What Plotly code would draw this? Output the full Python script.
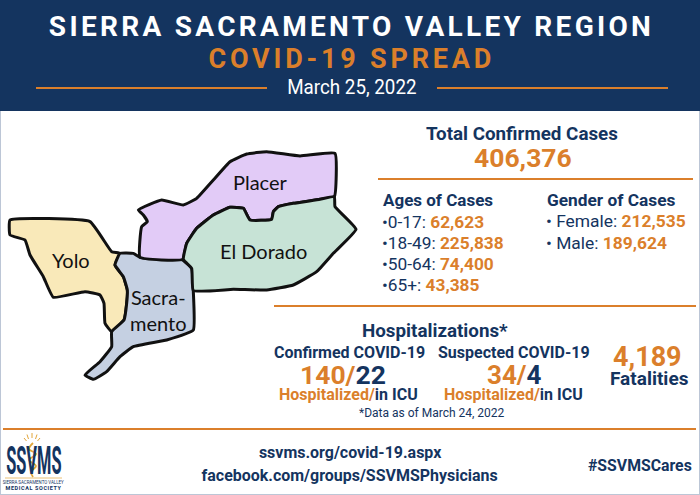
import json
import numpy as np
import plotly.graph_objects as go

NAVY = "#14345f"
ORANGE = "#db7f2b"
EDGE = "#bcc6d6"

# report text and figures
title = "SIERRA SACRAMENTO VALLEY REGION"
subtitle = "COVID-19 SPREAD"
report_date = "March 25, 2022"
total_cases = "406,376"
age_labels = ["0-17", "18-49", "50-64", "65+"]
age_values = ["62,623", "225,838", "74,400", "43,385"]
gender_labels = ["Female", "Male"]
gender_values = ["212,535", "189,624"]
confirmed = ("140", "22")
suspected = ("34", "4")
fatalities = "4,189"
data_note = "*Data as of March 24, 2022"
links = ["ssvms.org/covid-19.aspx", "facebook.com/groups/SSVMSPhysicians"]
hashtag = "#SSVMSCares"

# county outlines at 3x
yolo_x = [30, 270, 335, 360, 345, 370, 382, 380, 372, 335, 315, 312, 300, 255, 160, 130, 90, 75, 30]
yolo_y = [240, 245, 335, 340, 375, 410, 450, 490, 540, 575, 550, 490, 465, 455, 472, 410, 345, 300, 285]
sacramento_x = [360, 400, 420, 545, 575, 580, 580, 500, 400, 360, 320, 280, 255, 300, 335, 335, 372, 380, 382, 370, 345]
sacramento_y = [340, 340, 352, 358, 385, 455, 570, 600, 620, 650, 695, 718, 705, 665, 620, 575, 540, 490, 450, 410, 375]
placer_x = [415, 485, 550, 590, 640, 690, 740, 800, 900, 1005, 1003, 960, 880, 835, 820, 815, 750, 730, 690, 640, 590, 560, 548, 420, 425, 442, 430]
placer_y = [210, 180, 195, 175, 120, 65, 42, 35, 48, 40, 170, 178, 190, 200, 215, 238, 240, 205, 202, 225, 265, 310, 358, 352, 260, 245, 225]
eldorado_x = [1003, 1005, 1068, 1000, 950, 880, 800, 700, 580, 575, 550, 560, 590, 640, 690, 730, 750, 815, 820, 835, 880, 960]
eldorado_y = [170, 200, 268, 340, 395, 435, 450, 448, 452, 385, 358, 310, 265, 225, 202, 205, 240, 238, 215, 200, 190, 178]

counties = [
    ("Yolo", yolo_x, yolo_y, "#f9e9b9"),
    ("Sacramento", sacramento_x, sacramento_y, "#c5d0e2"),
    ("Placer", placer_x, placer_y, "#e2cbf7"),
    ("El Dorado", eldorado_x, eldorado_y, "#c7e3d6"),
]

# logo pieces
snake_x = [33, 29, 36, 29, 36, 31, 33]
snake_y = [443, 449, 454, 460, 466, 472, 477]
ray_x = [[32, 32], [27, 28.5], [37, 35.5], [24, 26.5], [40, 37.5]]
ray_y = [[433, 438], [434.5, 439], [434.5, 439], [438, 441], [438, 441]]

fig = go.Figure()

for name, xs, ys, colour in counties:
    fig.add_trace(go.Scatter(
        x=np.r_[xs, xs[0]] / 3,
        y=140 + np.r_[ys, ys[0]] / 3,
        mode="lines",
        fill="toself",
        fillcolor=colour,
        line=dict(color="#111111", width=3, shape="spline", smoothing=0.35),
        name=name,
        hoverinfo="skip",
    ))

for rx, ry in zip(ray_x, ray_y):
    fig.add_trace(go.Scatter(
        x=rx, y=ry, mode="lines",
        line=dict(color="#e2a63b", width=1),
        hoverinfo="skip",
    ))


def rule(x0, x1, y, color=ORANGE, width=2):
    return dict(type="line", x0=x0, x1=x1, y0=y, y1=y, line=dict(color=color, width=width), layer="above")


shapes = [
    dict(type="rect", x0=0, x1=700, y0=0, y1=495, line=dict(color=EDGE, width=2), fillcolor="white", layer="below"),
    dict(type="rect", x0=0, x1=700, y0=0, y1=111, line=dict(width=0), fillcolor=NAVY, layer="below"),
    rule(36, 267, 88),
    rule(437, 668, 88),
    rule(378, 693, 179),
    rule(274, 696, 306),
    rule(3, 696, 429),
    rule(5, 62, 478, "#e2a63b", 0.7),
]

annotations = []


def label(x, y, text, size, color=NAVY, weight=400, family="Roboto", anchor="center"):
    annotations.append(dict(
        x=x, y=y, text=text, showarrow=False, xanchor=anchor, yanchor="middle", align=anchor,
        font=dict(family=family, size=size, color=color, weight=weight),
    ))


def tint(text):
    return f'<span style="color:{ORANGE}">{text}</span>'


label(351, 26, title, 28, "white", 700)
label(352, 59, subtitle, 27, ORANGE, 700)
label(352, 87, report_date, 20, "white")

label(522, 134, "Total Confirmed Cases", 18.8, NAVY, 700)
label(523, 157, total_cases, 26.5, ORANGE, 700)

label(381, 200, "Ages of Cases", 17, NAVY, 700, anchor="left")
for i, (name, val) in enumerate(zip(age_labels, age_values)):
    label(380, 222 + i * 21, f"•{name}: <b>{tint(val)}</b>", 17.3, anchor="left")
label(545, 200, "Gender of Cases", 17.3, NAVY, 700, anchor="left")
for i, (name, val) in enumerate(zip(gender_labels, gender_values)):
    label(544, 221 + i * 21.5, f"• {name}: <b>{tint(val)}</b>", 17.4, anchor="left")

label(435, 331, "Hospitalizations*", 18.8, NAVY, 700)
label(349, 352, "Confirmed COVID-19", 16, NAVY, 700)
label(514, 352, "Suspected COVID-19", 16, NAVY, 700)
label(343, 374, f"{tint(confirmed[0] + '/')}{confirmed[1]}", 26.5, NAVY, 700)
label(514, 375, f"{tint(suspected[0] + '/')}{suspected[1]}", 26, NAVY, 700)
label(348, 394, f"{tint('Hospitalized/')}in ICU", 16, NAVY, 700)
label(513, 394, f"{tint('Hospitalized/')}in ICU", 16, NAVY, 700)
label(432, 413, data_note, 12, NAVY)
label(647, 357, fatalities, 27, ORANGE, 700)
label(649, 378, "Fatalities", 19, NAVY, 700)

label(350, 452, links[0], 17, NAVY, 700)
label(350, 475, links[1], 17, NAVY, 700)
label(640, 465, hashtag, 15.8, NAVY, 700)

label(260, 182, "Placer", 20, "#111111", family="Lato")
label(263, 251, "El Dorado", 20, "#111111", family="Lato")
label(71, 260, "Yolo", 20, "#111111", family="Lato")
label(158, 310, "Sacra-<br>mento", 20, "#111111", family="Lato")

label(33.5, 461, "SSVMS", 39, NAVY, 700)
fig.add_trace(go.Scatter(
    x=snake_x, y=snake_y, mode="lines",
    line=dict(color="#e2a63b", width=1.8, shape="spline"),
    hoverinfo="skip",
))
label(33.5, 482, "SIERRA SACRAMENTO VALLEY", 5.5, NAVY)
label(33.5, 488, "MEDICAL SOCIETY", 5.5, NAVY, 700)

fig.update_layout(
    width=700,
    height=495,
    margin=dict(l=0, r=0, t=0, b=0),
    showlegend=False,
    paper_bgcolor="white",
    plot_bgcolor="white",
    xaxis=dict(range=[0, 700], visible=False, fixedrange=True),
    yaxis=dict(range=[495, 0], visible=False, fixedrange=True),
    shapes=shapes,
    annotations=annotations,
)

# plotly has no letter spacing or condensed type, so set them on the drawn text
text_css = {
    title: "letter-spacing:3.3px",
    subtitle: "letter-spacing:3.8px",
    report_date: "transform:scaleX(.94)",
    links[0]: "transform:scaleX(.94)",
    links[1]: "transform:scaleX(.94)",
    "SSVMS": "transform:scaleX(.42)",
    "SIERRA SACRAMENTO VALLEY": "transform:scaleX(.8)",
    "MEDICAL SOCIETY": "letter-spacing:.6px",
}
post = """
document.body.style.margin = '0';
var css = %s;
document.querySelectorAll('.annotation-text').forEach(function (t) {
  var rule = css[t.getAttribute('data-unformatted')];
  if (rule) {
    t.style.cssText += ';transform-box:fill-box;transform-origin:center;' + rule;
  }
});
""" % json.dumps(text_css)

fig.write_html("out.html", config={"displayModeBar": False}, post_script=post)
